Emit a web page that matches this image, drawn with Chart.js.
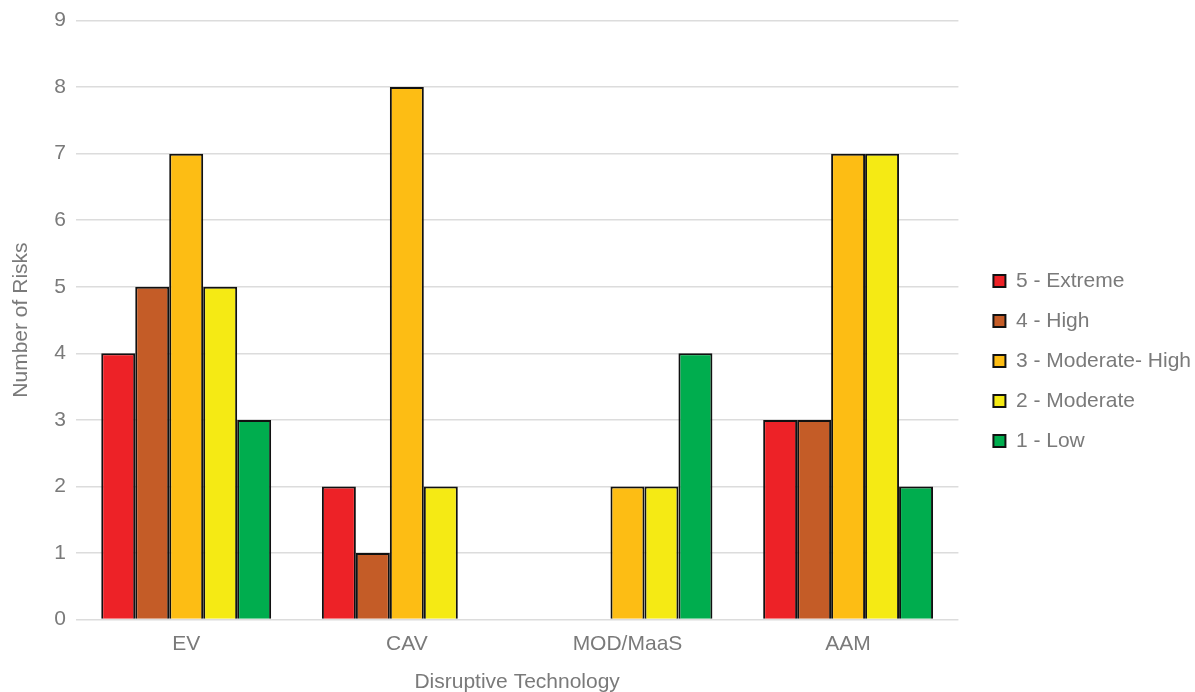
<!DOCTYPE html>
<html>
<head>
<meta charset="utf-8">
<script src="https://cdn.jsdelivr.net/npm/chart.js@4"></script>
<style>
  html, body { margin: 0; padding: 0; background: #fff; }
  #wrap { width: 1195px; height: 692px; }
</style>
</head>
<body>
<div id="wrap"><canvas id="c" width="1195" height="692"></canvas></div>
<script>
// Risk counts per disruptive technology, grouped by risk level
const categories = ['EV', 'CAV', 'MOD/MaaS', 'AAM'];
const riskLevels = ['5 - Extreme', '4 - High', '3 - Moderate- High', '2 - Moderate', '1 - Low'];
const extreme      = [4, 2, null, 3];
const high         = [5, 1, null, 3];
const moderateHigh = [7, 8, 2, 7];
const moderate     = [5, 2, 2, 7];
const low          = [3, null, 4, 2];
const yTicks = [0, 1, 2, 3, 4, 5, 6, 7, 8, 9];

const colors = ['#ED2227', '#C45C27', '#FDBD14', '#F5EA14', '#00AD4E'];
const series = [extreme, high, moderateHigh, moderate, low];

const FONT = "'Liberation Sans', Arial, sans-serif";
const GREY = '#7a7a7a';
const SIZE = 21;
const LEGEND_GAP = 35; // space between plot area and legend swatches
const LEGEND_DROP = 9; // legend sits slightly below the vertical centre

// Push the legend a little away from the plot area
const legendOffset = {
  id: 'legendOffset',
  afterLayout(chart) {
    const lg = chart.legend;
    if (!lg) return;
    const shift = chart.chartArea.right + LEGEND_GAP - 19 - lg.left;
    lg.left += shift;
    lg.right += shift;
    lg.top += LEGEND_DROP;
    lg.bottom += LEGEND_DROP;
    if (lg.legendHitBoxes) lg.legendHitBoxes.forEach(b => { b.left += shift; b.top += LEGEND_DROP; });
  }
};

new Chart(document.getElementById('c'), {
  type: 'bar',
  data: {
    labels: categories,
    datasets: series.map((vals, i) => ({
      label: riskLevels[i],
      data: vals,
      backgroundColor: colors[i],
      borderColor: '#111',
      borderWidth: 2,
      categoryPercentage: 0.77,
      barPercentage: 1.0
    }))
  },
  plugins: [legendOffset],
  options: {
    responsive: false,
    animation: false,
    layout: { padding: { top: 9, right: 10, left: 9, bottom: -3 } },
    plugins: {
      legend: {
        position: 'right',
        align: 'center',
        labels: {
          boxWidth: 12,
          boxHeight: 12,
          padding: 19,
          color: GREY,
          font: { family: FONT, size: SIZE }
        }
      },
      tooltip: { enabled: false }
    },
    scales: {
      x: {
        grid: { display: false },
        border: { display: false },
        ticks: { color: GREY, font: { family: FONT, size: SIZE }, padding: 4 },
        title: {
          display: true,
          text: 'Disruptive Technology',
          color: GREY,
          font: { family: FONT, size: SIZE },
          padding: { top: 9, bottom: 0 }
        }
      },
      y: {
        min: 0,
        max: yTicks[yTicks.length - 1],
        afterBuildTicks: (axis) => { axis.ticks = yTicks.map(v => ({ value: v })); },
        grid: { color: '#dcdcdc', lineWidth: 1.5, drawTicks: false },
        border: { display: false },
        ticks: { color: GREY, font: { family: FONT, size: SIZE, lineHeight: 1 }, padding: 10 },
        title: {
          display: true,
          text: 'Number of Risks',
          color: GREY,
          font: { family: FONT, size: SIZE },
          padding: { top: 0, bottom: 10 }
        }
      }
    }
  }
});
</script>
</body>
</html>
